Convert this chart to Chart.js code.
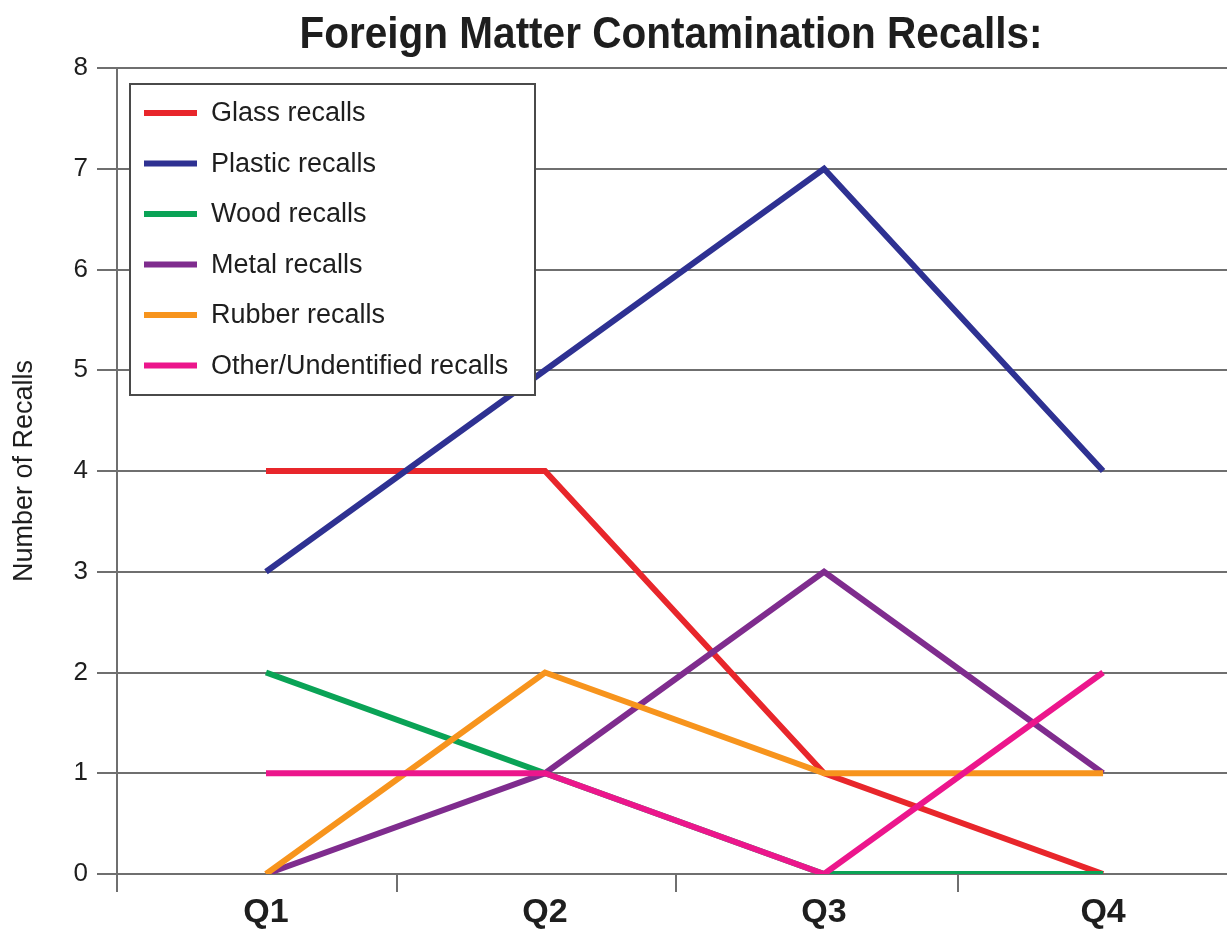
<!DOCTYPE html>
<html>
<head>
<meta charset="utf-8">
<script src="https://cdn.jsdelivr.net/npm/chart.js@4.4.1/dist/chart.umd.min.js"></script>
<style>
  html, body { margin: 0; padding: 0; background: #ffffff; overflow: hidden; }
  #wrap { width: 1240px; height: 929px; position: relative; }
</style>
</head>
<body>
<div id="wrap"><canvas id="c"></canvas></div>
<script>
// Quarterly counts of foreign matter recalls by material
const quarters = ['Q1', 'Q2', 'Q3', 'Q4'];
const glass   = [4, 4, 1, 0];
const plastic = [3, 5, 7, 4];
const wood    = [2, 1, 0, 0];
const metal   = [0, 1, 3, 1];
const rubber  = [0, 2, 1, 1];
const other   = [1, 1, 0, 2];
const yTicks  = [0, 1, 2, 3, 4, 5, 6, 7, 8];

const seriesNames  = ['Glass recalls', 'Plastic recalls', 'Wood recalls', 'Metal recalls', 'Rubber recalls', 'Other/Undentified recalls'];
const seriesValues = [glass, plastic, wood, metal, rubber, other];
const seriesColors = ['#e8262b', '#2e3192', '#0aa356', '#7f2c8e', '#f7941d', '#ec168c'];

const chartTitle = 'Foreign Matter Contamination Recalls:';
const yTitle = 'Number of Recalls';

// Horizontal axis layout: quarter index range and the separator marks between quarters
const xRange = { min: -0.534, max: 3.48 };
const quarterSeparators = [-0.534, 0.47, 1.47, 2.48];

const axisGrey = '#6f6f6f';
const textColor = '#1e1e1e';
const sans = '"Liberation Sans", Arial, sans-serif';

// Heading above the plot, set in a condensed bold style
const titlePlugin = {
  id: 'headline',
  afterDraw(chart) {
    const ctx = chart.ctx;
    ctx.save();
    ctx.font = 'bold 44px ' + sans;
    ctx.fillStyle = textColor;
    ctx.textAlign = 'center';
    ctx.textBaseline = 'alphabetic';
    const w = ctx.measureText(chartTitle).width;
    const sx = 743 / w;
    ctx.translate(671, 48);
    ctx.scale(sx, 1);
    ctx.fillText(chartTitle, 0, 0);
    ctx.restore();
  }
};

// Boxed key in the upper-left corner of the plot
const keyPlugin = {
  id: 'boxedKey',
  afterDatasetsDraw(chart) {
    const ctx = chart.ctx;
    const box = { x: 130, y: 84, w: 405, h: 311 };
    ctx.save();
    ctx.fillStyle = '#ffffff';
    ctx.fillRect(box.x, box.y, box.w, box.h);
    ctx.strokeStyle = '#4a4a4a';
    ctx.lineWidth = 2;
    ctx.strokeRect(box.x, box.y, box.w, box.h);
    ctx.font = '27px ' + sans;
    ctx.textAlign = 'left';
    ctx.textBaseline = 'middle';
    chart.data.datasets.forEach((ds, i) => {
      const cy = 113 + i * 50.5;
      ctx.strokeStyle = ds.borderColor;
      ctx.lineWidth = 6;
      ctx.beginPath();
      ctx.moveTo(144, cy);
      ctx.lineTo(197, cy);
      ctx.stroke();
      ctx.fillStyle = textColor;
      ctx.fillText(ds.label, 211, cy + 1);
    });
    ctx.restore();
  }
};

const datasets = seriesNames.map((name, i) => ({
  label: name,
  data: seriesValues[i].map((v, q) => ({ x: q, y: v })),
  borderColor: seriesColors[i],
  backgroundColor: seriesColors[i],
  borderWidth: 6,
  pointRadius: 0,
  pointHoverRadius: 0,
  tension: 0,
  fill: false,
  order: seriesNames.length - i
}));

const isQuarter = v => Number.isInteger(v) && v >= 0 && v < quarters.length;

new Chart(document.getElementById('c'), {
  type: 'line',
  data: { datasets },
  options: {
    responsive: true,
    maintainAspectRatio: false,
    animation: false,
    layout: { padding: { top: 68, right: 3, left: 0, bottom: 0 } },
    plugins: {
      legend: { display: false },
      title: { display: false },
      tooltip: { enabled: false }
    },
    scales: {
      x: {
        type: 'linear',
        min: xRange.min,
        max: xRange.max,
        afterBuildTicks(scale) {
          const vals = quarterSeparators.concat(quarters.map((q, i) => i)).sort((a, b) => a - b);
          scale.ticks = vals.map(v => ({ value: v }));
        },
        grid: {
          drawOnChartArea: false,
          tickLength: 18,
          lineWidth: 2,
          color: ctx => (ctx.tick && isQuarter(ctx.tick.value)) ? 'rgba(0,0,0,0)' : axisGrey
        },
        border: { display: false },
        ticks: {
          autoSkip: false,
          maxRotation: 0,
          color: textColor,
          font: { family: sans, weight: 'bold', size: 34 },
          padding: 0,
          callback: v => isQuarter(v) ? quarters[v] : ''
        },
        afterFit(scale) { scale.height = 55; }
      },
      y: {
        min: 0,
        max: 8,
        afterBuildTicks(scale) { scale.ticks = yTicks.map(v => ({ value: v })); },
        ticks: { color: textColor, font: { family: sans, size: 26 }, padding: 9 },
        grid: { color: axisGrey, lineWidth: 2, tickLength: 20 },
        border: { color: axisGrey, width: 2 },
        title: {
          display: true,
          text: yTitle,
          color: textColor,
          font: { family: sans, size: 27 },
          padding: { top: 8, bottom: 0 }
        },
        afterFit(scale) { scale.width = 117; }
      }
    }
  },
  plugins: [titlePlugin, keyPlugin]
});
</script>
</body>
</html>
